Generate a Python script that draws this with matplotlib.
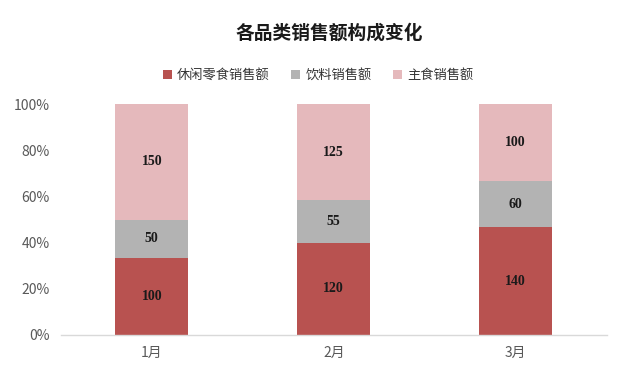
import matplotlib.pyplot as plt
import numpy as np

plt.rcParams['font.family'] = ['Noto Sans CJK SC', 'DejaVu Sans']

months = ['1月', '2月', '3月']
snack = [100, 120, 140]
drink = [50, 55, 60]
staple = [150, 125, 100]
series_names = ['休闲零食销售额', '饮料销售额', '主食销售额']
colors = ['#B85250', '#B3B3B3', '#E5B9BC']

data = np.array([snack, drink, staple], dtype=float)
totals = data.sum(axis=0)
pct = data / totals * 100

fig = plt.figure(figsize=(6.4, 3.78), dpi=100)
ax = fig.add_axes([0.095, 0.1138, 0.853, 0.611])

x = np.arange(len(months))
bottom = np.zeros(len(months))
for i in range(3):
    bars = ax.bar(x, pct[i], 0.4, bottom=bottom, color=colors[i], label=series_names[i])
    for j, b in enumerate(bars):
        ax.text(b.get_x() + b.get_width() / 2, bottom[j] + pct[i][j] / 2,
                '%d' % data[i][j], ha='center', va='center',
                fontsize=10, family='Liberation Serif', fontweight='bold',
                color='#1a1a1a')
    bottom += pct[i]

ax.set_xlim(-0.5, 2.5)
ax.set_ylim(0, 100)
ax.set_yticks(np.arange(0, 101, 20))
ax.set_yticklabels(['%d%%' % v for v in range(0, 101, 20)])
ax.set_xticks(x)
ax.set_xticklabels(months)
ax.tick_params(axis='both', length=0, labelsize=10, colors='#595959')
ax.tick_params(axis='y', pad=8)
ax.tick_params(axis='x', pad=8)

for s in ['top', 'right', 'left']:
    ax.spines[s].set_visible(False)
ax.spines['bottom'].set_color('#D9D9D9')
ax.spines['bottom'].set_linewidth(1)

fig.text(0.515, 0.912, '各品类销售额构成变化', ha='center', va='center',
         fontsize=13.5, fontweight='bold', color='#1a1a1a')

fig.legend(loc='center', bbox_to_anchor=(0.497, 0.80), ncol=3, frameon=False,
           fontsize=9.5, handlelength=0.7, handleheight=0.7, columnspacing=1.6,
           handletextpad=0.4, labelcolor='#333333')

plt.savefig('out.png', dpi=100)
